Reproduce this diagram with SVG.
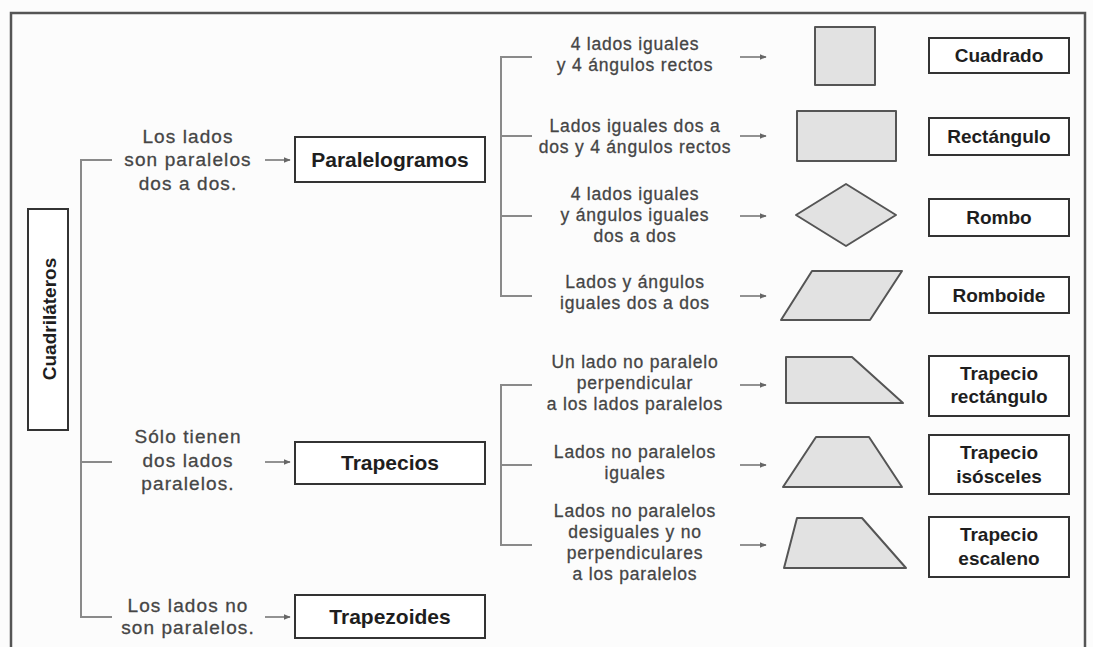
<svg xmlns="http://www.w3.org/2000/svg" width="1093" height="647" viewBox="0 0 1093 647">
<defs>
<marker id="ah" viewBox="0 0 10 10" refX="9" refY="5" markerWidth="7" markerHeight="7" markerUnits="userSpaceOnUse" orient="auto">
<path d="M0,1 L10,5 L0,9 Z" fill="#666"/>
</marker>
<style>
.bg{fill:#fcfcfc}
.frame{fill:none;stroke:#555;stroke-width:2.5}
.conn{fill:none;stroke:#8a8a8a;stroke-width:2}
.arr{fill:none;stroke:#777;stroke-width:1.6;marker-end:url(#ah)}
.box{fill:#fff;stroke:#333;stroke-width:2}
.shape{fill:#e2e2e2;stroke:#555;stroke-width:2;stroke-linejoin:round}
.lt{font-family:"Liberation Sans",Arial,sans-serif;font-size:19px;letter-spacing:1.1px;fill:#454545;stroke:#454545;stroke-width:0.3;text-anchor:middle}
.rt{font-family:"Liberation Sans",Arial,sans-serif;font-size:17.5px;letter-spacing:0.8px;fill:#454545;stroke:#454545;stroke-width:0.3;text-anchor:middle}
.bt{font-family:"Liberation Sans",Arial,sans-serif;font-size:21px;font-weight:bold;fill:#1e1e1e;text-anchor:middle}
.lb{font-family:"Liberation Sans",Arial,sans-serif;font-size:19px;font-weight:bold;fill:#1e1e1e;text-anchor:middle}
</style>
</defs>
<rect class="bg" x="0" y="0" width="1093" height="647"/>
<path class="frame" d="M11,660 V13 H1085 V660"/>

<g id="connectors">
<path class="conn" d="M112,160 H81 V617 H112 M81,462 H112"/>
<path class="conn" d="M532,57 H501 V296 H532 M501,136 H532 M501,216 H532"/>
<path class="conn" d="M532,385 H501 V545 H532 M501,465 H532"/>
<line class="arr" x1="265" y1="160" x2="290" y2="160"/>
<line class="arr" x1="265" y1="462" x2="290" y2="462"/>
<line class="arr" x1="265" y1="617" x2="290" y2="617"/>
<line class="arr" x1="740" y1="57" x2="766" y2="57"/>
<line class="arr" x1="740" y1="136" x2="766" y2="136"/>
<line class="arr" x1="740" y1="216" x2="766" y2="216"/>
<line class="arr" x1="740" y1="296" x2="766" y2="296"/>
<line class="arr" x1="740" y1="385" x2="766" y2="385"/>
<line class="arr" x1="740" y1="465" x2="766" y2="465"/>
<line class="arr" x1="740" y1="545" x2="766" y2="545"/>
</g>

<g id="cuadrilateros">
<rect class="box" x="28" y="209" width="40" height="221"/>
<text class="lb" font-size="21" transform="translate(55.5,319) rotate(-90)">Cuadriláteros</text>
</g>

<g id="txt-paralelos">
<text class="lt" x="188" y="143">Los lados</text>
<text class="lt" x="188" y="166">son paralelos</text>
<text class="lt" x="188" y="190">dos a dos.</text>
</g>
<g id="txt-solo">
<text class="lt" x="188" y="443">Sólo tienen</text>
<text class="lt" x="188" y="467">dos lados</text>
<text class="lt" x="188" y="490">paralelos.</text>
</g>
<g id="txt-no">
<text class="lt" x="188" y="612">Los lados no</text>
<text class="lt" x="188" y="634">son paralelos.</text>
</g>

<g id="paralelogramos">
<rect class="box" x="295" y="137" width="190" height="45"/>
<text class="bt" x="390" y="167">Paralelogramos</text>
</g>
<g id="trapecios">
<rect class="box" x="295" y="442" width="190" height="42"/>
<text class="bt" x="390" y="470">Trapecios</text>
</g>
<g id="trapezoides">
<rect class="box" x="295" y="595" width="190" height="43"/>
<text class="bt" x="390" y="624">Trapezoides</text>
</g>

<g id="desc-cuadrado">
<text class="rt" x="635" y="50">4 lados iguales</text>
<text class="rt" x="635" y="71">y 4 ángulos rectos</text>
</g>
<g id="desc-rectangulo">
<text class="rt" x="635" y="132">Lados iguales dos a</text>
<text class="rt" x="635" y="153">dos y 4 ángulos rectos</text>
</g>
<g id="desc-rombo">
<text class="rt" x="635" y="200">4 lados iguales</text>
<text class="rt" x="635" y="221">y ángulos iguales</text>
<text class="rt" x="635" y="242">dos a dos</text>
</g>
<g id="desc-romboide">
<text class="rt" x="635" y="288">Lados y ángulos</text>
<text class="rt" x="635" y="309">iguales dos a dos</text>
</g>
<g id="desc-trap-rect">
<text class="rt" x="635" y="368">Un lado no paralelo</text>
<text class="rt" x="635" y="389">perpendicular</text>
<text class="rt" x="635" y="410">a los lados paralelos</text>
</g>
<g id="desc-trap-isos">
<text class="rt" x="635" y="458">Lados no paralelos</text>
<text class="rt" x="635" y="479">iguales</text>
</g>
<g id="desc-trap-esc">
<text class="rt" x="635" y="517">Lados no paralelos</text>
<text class="rt" x="635" y="538">desiguales y no</text>
<text class="rt" x="635" y="559">perpendiculares</text>
<text class="rt" x="635" y="580">a los paralelos</text>
</g>

<g id="shapes">
<rect class="shape" x="815" y="27" width="60" height="58"/>
<rect class="shape" x="797" y="111" width="99" height="50"/>
<polygon class="shape" points="796,215 846,184 896,215 846,246"/>
<polygon class="shape" points="812,271 902,271 870,320 781,320"/>
<polygon class="shape" points="786,357 852,357 903,403 786,403"/>
<polygon class="shape" points="816,437 869,437 902,487 783,487"/>
<polygon class="shape" points="797,518 862,518 906,568 784,568"/>
</g>

<g id="cuadrado">
<rect class="box" x="929" y="38" width="140" height="35"/>
<text class="lb" x="999" y="62">Cuadrado</text>
</g>
<g id="rectangulo">
<rect class="box" x="929" y="118" width="140" height="37"/>
<text class="lb" x="999" y="143">Rectángulo</text>
</g>
<g id="rombo">
<rect class="box" x="929" y="199" width="140" height="37"/>
<text class="lb" x="999" y="224">Rombo</text>
</g>
<g id="romboide">
<rect class="box" x="929" y="277" width="140" height="36"/>
<text class="lb" x="999" y="302">Romboide</text>
</g>
<g id="trapecio-rectangulo">
<rect class="box" x="929" y="356" width="140" height="60"/>
<text class="lb" x="999" y="380">Trapecio</text>
<text class="lb" x="999" y="403">rectángulo</text>
</g>
<g id="trapecio-isosceles">
<rect class="box" x="929" y="435" width="140" height="59"/>
<text class="lb" x="999" y="459">Trapecio</text>
<text class="lb" x="999" y="483">isósceles</text>
</g>
<g id="trapecio-escaleno">
<rect class="box" x="929" y="517" width="140" height="60"/>
<text class="lb" x="999" y="541">Trapecio</text>
<text class="lb" x="999" y="565">escaleno</text>
</g>
</svg>
